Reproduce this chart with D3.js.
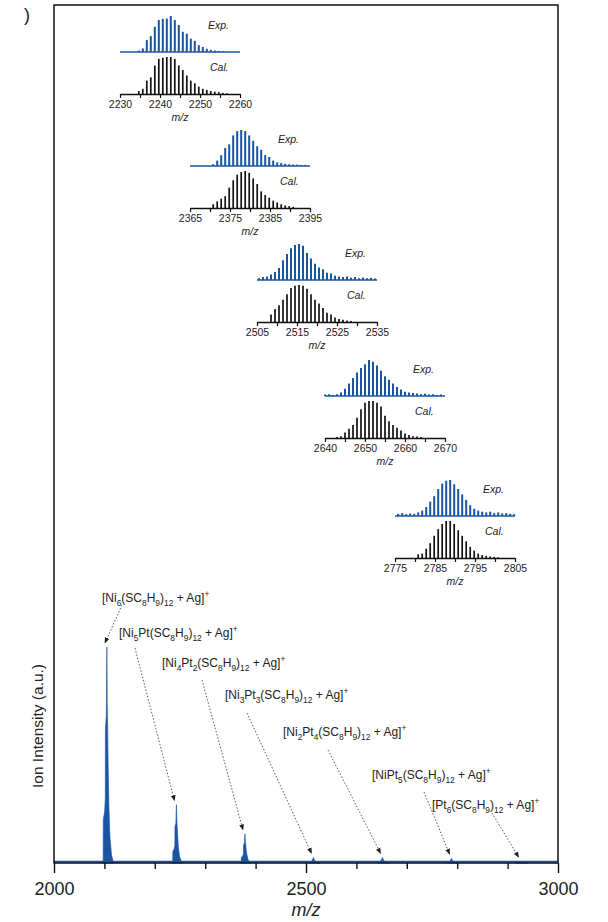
<!DOCTYPE html>
<html lang="en">
<head>
<meta charset="UTF-8">
<title>Mass spectrum</title>
<script src="https://d3js.org/d3.v7.min.js"></script>
<style>
  body { margin: 0; background: #fff; }
  svg { display: block; font-family: "Liberation Sans", Arial, sans-serif; }
</style>
</head>
<body>
<div id="chart"></div>
<script>
// ---- main spectrum data ----
const peakCenters = [2105, 2243, 2379, 2515, 2652, 2789, 2926];
const peakHeights = [100, 27, 13.5, 2.6, 2.6, 2.2, 0.8];
// envelope of one peak (m/z offset, fraction of peak height)
const shapeOffsets = [-9, -7.5, -7.2, -4.5, -3.2, -3, -1.2, -0.5, 0, 0.6, 1.5, 2.5, 4, 6, 9, 13];
const shapeValues  = [0, 0, 0.2, 0.24, 0.3, 0.62, 0.68, 0.9, 1, 0.74, 0.62, 0.44, 0.26, 0.12, 0.04, 0];
const majorTicks = [2000, 2500, 3000];
const minorTicks = [2100, 2200, 2300, 2400, 2600, 2700, 2800, 2900];

const peakLabels = [
  "[Ni_6(SC_8H_9)_{12} + Ag]^+",
  "[Ni_5Pt(SC_8H_9)_{12} + Ag]^+",
  "[Ni_4Pt_2(SC_8H_9)_{12} + Ag]^+",
  "[Ni_3Pt_3(SC_8H_9)_{12} + Ag]^+",
  "[Ni_2Pt_4(SC_8H_9)_{12} + Ag]^+",
  "[NiPt_5(SC_8H_9)_{12} + Ag]^+",
  "[Pt_6(SC_8H_9)_{12} + Ag]^+"
];

// ---- inset isotope patterns ----
const insetDomains = [[2230, 2260], [2365, 2395], [2505, 2535], [2640, 2670], [2775, 2805]];
const expStarts = [2234.7, 2370.8, 2505.5, 2640, 2775.8];
const expValues = [
  [0.04, 0.1, 0.33, 0.44, 0.7, 0.89, 0.92, 0.93, 1.0, 0.89, 0.75, 0.56, 0.51, 0.37, 0.31, 0.19, 0.14, 0.09, 0.06, 0.04, 0.03, 0.02],
  [0.05, 0.15, 0.3, 0.5, 0.6, 0.85, 0.97, 1.0, 0.97, 0.85, 0.7, 0.55, 0.45, 0.3, 0.25, 0.15, 0.1, 0.08, 0.06, 0.05, 0.04, 0.04, 0.03, 0.03],
  [0.05, 0.08, 0.1, 0.15, 0.22, 0.33, 0.55, 0.72, 0.88, 0.97, 1.0, 0.95, 0.75, 0.6, 0.45, 0.35, 0.3, 0.2, 0.18, 0.12, 0.1, 0.08, 0.1, 0.06, 0.08, 0.05, 0.07, 0.05, 0.06, 0.04],
  [0.04, 0.05, 0.03, 0.05, 0.1, 0.2, 0.35, 0.5, 0.65, 0.78, 0.88, 1.0, 0.95, 0.85, 0.7, 0.55, 0.45, 0.35, 0.25, 0.18, 0.12, 0.1, 0.08, 0.07, 0.05, 0.06, 0.04, 0.05, 0.03, 0.04],
  [0.06, 0.08, 0.05, 0.07, 0.06, 0.1, 0.15, 0.25, 0.4, 0.55, 0.75, 0.9, 0.98, 1.0, 0.88, 0.75, 0.6, 0.45, 0.3, 0.2, 0.15, 0.12, 0.1, 0.12, 0.08, 0.1, 0.07, 0.08, 0.06, 0.05]
];
const calStarts = [2234.7, 2370.8, 2508.5, 2643, 2780.8];
const calValues = [
  [0.08, 0.14, 0.36, 0.45, 0.77, 0.95, 0.98, 1.0, 1.0, 0.95, 0.77, 0.65, 0.5, 0.36, 0.29, 0.2, 0.14, 0.11, 0.08, 0.06, 0.05, 0.03, 0.02],
  [0.1, 0.18, 0.25, 0.32, 0.55, 0.75, 0.9, 0.97, 1.0, 0.95, 0.8, 0.65, 0.45, 0.35, 0.28, 0.2, 0.15, 0.1, 0.07, 0.05, 0.03],
  [0.2, 0.35, 0.45, 0.6, 0.75, 0.92, 0.98, 1.0, 0.98, 0.9, 0.75, 0.6, 0.5, 0.38, 0.25, 0.2, 0.12, 0.08, 0.06, 0.04, 0.03],
  [0.03, 0.05, 0.15, 0.25, 0.35, 0.55, 0.78, 0.95, 1.0, 1.0, 0.95, 0.85, 0.6, 0.45, 0.35, 0.28, 0.2, 0.12, 0.08, 0.05, 0.04, 0.03],
  [0.1, 0.12, 0.25, 0.4, 0.6, 0.78, 0.92, 1.0, 1.0, 0.92, 0.75, 0.6, 0.45, 0.3, 0.2, 0.12, 0.08, 0.06, 0.04, 0.03, 0.02]
];

// layout
const blue = "#1b54a2";
const ink = "#222";
const insetPos = [[120, 94], [190, 208], [257, 322], [325, 438], [395, 558]];
const labelPos = [[102, 598], [119, 633], [162, 663], [225, 695], [283, 732], [372, 775], [432, 805]];
const arrowStart = [[122, 605], [135, 648], [202, 680], [247, 713], [328, 750], [424, 792], [492, 813]];

const svg = d3.select("#chart").append("svg")
  .attr("width", 608)
  .attr("height", 922);

const defs = svg.append("defs");
defs.append("marker")
  .attr("id", "ah")
  .attr("viewBox", "0 0 10 10")
  .attr("refX", 9).attr("refY", 5)
  .attr("markerWidth", 6).attr("markerHeight", 6)
  .attr("markerUnits", "userSpaceOnUse")
  .attr("orient", "auto")
  .append("path")
  .attr("d", "M0,1L10,5L0,9Z")
  .attr("fill", ink);

const x = d3.scaleLinear().domain([2000, 3000]).range([54, 558]);
const y = d3.scaleLinear().domain([0, 100]).range([863, 647]);

// baseline trace
svg.append("line")
  .attr("x1", x(2000)).attr("x2", x(3000))
  .attr("y1", y(0) - 1.2).attr("y2", y(0) - 1.2)
  .attr("stroke", blue).attr("stroke-width", 2);

const area = d3.area()
  .x(d => x(d[0]))
  .y0(y(0))
  .y1(d => y(d[1]));

peakCenters.forEach((c, i) => {
  const pts = shapeOffsets.map((o, j) => [c + o, shapeValues[j] * peakHeights[i]]);
  svg.append("path").attr("d", area(pts)).attr("fill", blue)
    .attr("stroke", blue).attr("stroke-width", 0.6);
});

// frame
svg.append("rect")
  .attr("x", 54).attr("y", 5)
  .attr("width", 504).attr("height", 858)
  .attr("fill", "none")
  .attr("stroke", "#111")
  .attr("stroke-width", 1.5);

// x axis
const minorAxis = svg.append("g")
  .attr("transform", `translate(0,${y(0)})`)
  .call(d3.axisBottom(x).tickValues(minorTicks).tickSize(6).tickFormat(""));
const majorAxis = svg.append("g")
  .attr("transform", `translate(0,${y(0)})`)
  .call(d3.axisBottom(x).tickValues(majorTicks).tickSize(10).tickPadding(9).tickFormat(d3.format("d")));
[minorAxis, majorAxis].forEach(g => {
  g.select(".domain").remove();
  g.selectAll("line").attr("stroke", "#111").attr("stroke-width", 1.4);
  g.selectAll("text").attr("font-size", 18).attr("fill", ink).attr("font-family", "Liberation Sans, Arial, sans-serif");
});

svg.append("text")
  .attr("x", 306).attr("y", 916)
  .attr("text-anchor", "middle")
  .attr("font-size", 18)
  .attr("font-style", "italic")
  .attr("fill", ink)
  .text("m/z");

svg.append("text")
  .attr("transform", "translate(37,726) rotate(-90)")
  .attr("text-anchor", "middle")
  .attr("dominant-baseline", "central")
  .attr("font-size", 15.5)
  .attr("fill", ink)
  .text("Ion Intensity (a.u.)");

svg.append("text")
  .attr("x", 24).attr("y", 21)
  .attr("font-size", 18)
  .attr("fill", ink)
  .text(")");

// formula text with sub/superscripts
function formula(sel, str, fs) {
  const toks = [];
  let i = 0;
  while (i < str.length) {
    const ch = str[i];
    if (ch === "_" || ch === "^") {
      i++;
      let s;
      if (str[i] === "{") { const j = str.indexOf("}", i); s = str.slice(i + 1, j); i = j + 1; }
      else { s = str[i]; i++; }
      toks.push({ t: s, off: ch === "_" ? 0.3 * fs : -0.4 * fs, small: true });
    } else {
      let j = i;
      while (j < str.length && str[j] !== "_" && str[j] !== "^") j++;
      toks.push({ t: str.slice(i, j), off: 0, small: false });
      i = j;
    }
  }
  let cur = 0;
  toks.forEach(tk => {
    sel.append("tspan")
      .attr("dy", tk.off - cur)
      .attr("font-size", tk.small ? fs * 0.7 : fs)
      .text(tk.t);
    cur = tk.off;
  });
}

peakLabels.forEach((lab, i) => {
  const t = svg.append("text")
    .attr("x", labelPos[i][0])
    .attr("y", labelPos[i][1] + 4)
    .attr("fill", ink)
    .attr("font-size", 12)
    .style("white-space", "pre");
  formula(t, lab, 12);

  svg.append("line")
    .attr("x1", arrowStart[i][0]).attr("y1", arrowStart[i][1])
    .attr("x2", x(peakCenters[i]) - 2).attr("y2", y(peakHeights[i]) - 4)
    .attr("stroke", "#333")
    .attr("stroke-width", 0.8)
    .attr("stroke-dasharray", "1.5,1.8")
    .attr("marker-end", "url(#ah)");
});

// insets
insetDomains.forEach((dom, k) => {
  const [x0, base] = insetPos[k];
  const sx = d3.scaleLinear().domain(dom).range([x0, x0 + 120]);
  const expBase = base - 42;
  const sye = d3.scaleLinear().domain([0, 1]).range([expBase, expBase - 36]);
  const syc = d3.scaleLinear().domain([0, 1]).range([base, base - 37]);
  const g = svg.append("g");

  g.append("line")
    .attr("x1", sx(dom[0])).attr("x2", sx(dom[1]))
    .attr("y1", expBase).attr("y2", expBase)
    .attr("stroke", blue).attr("stroke-width", 1.6);

  g.selectAll(".exp")
    .data(expValues[k])
    .join("line")
    .attr("class", "exp")
    .attr("x1", (d, i) => sx(expStarts[k] + i))
    .attr("x2", (d, i) => sx(expStarts[k] + i))
    .attr("y1", expBase)
    .attr("y2", d => sye(d))
    .attr("stroke", blue)
    .attr("stroke-width", 2);

  g.selectAll(".cal")
    .data(calValues[k])
    .join("line")
    .attr("class", "cal")
    .attr("x1", (d, i) => sx(calStarts[k] + i))
    .attr("x2", (d, i) => sx(calStarts[k] + i))
    .attr("y1", base)
    .attr("y2", d => syc(d))
    .attr("stroke", "#111")
    .attr("stroke-width", 1.7);

  const ticks = d3.range(dom[0], dom[1] + 1, 5);
  const ax = g.append("g")
    .attr("transform", `translate(0,${base})`)
    .call(d3.axisBottom(sx).tickValues(ticks).tickSize(4).tickSizeOuter(0).tickPadding(3)
      .tickFormat(d => (d - dom[0]) % 10 === 0 ? d : ""));
  ax.select(".domain").attr("stroke", "#111").attr("stroke-width", 1.3);
  ax.selectAll("line").attr("stroke", "#111").attr("stroke-width", 1.2);
  ax.selectAll("text").attr("font-size", 10.5).attr("fill", ink).attr("font-family", "Liberation Sans, Arial, sans-serif");

  g.append("text")
    .attr("x", x0 + 60).attr("y", base + 27)
    .attr("text-anchor", "middle")
    .attr("font-size", 10.5)
    .attr("font-style", "italic")
    .attr("fill", ink)
    .text("m/z");

  g.append("text")
    .attr("x", x0 + 88).attr("y", base - 65)
    .attr("font-size", 10.5)
    .attr("font-style", "italic")
    .attr("fill", ink)
    .text("Exp.");
  g.append("text")
    .attr("x", x0 + 90).attr("y", base - 23)
    .attr("font-size", 10.5)
    .attr("font-style", "italic")
    .attr("fill", ink)
    .text("Cal.");
});
</script>
</body>
</html>
